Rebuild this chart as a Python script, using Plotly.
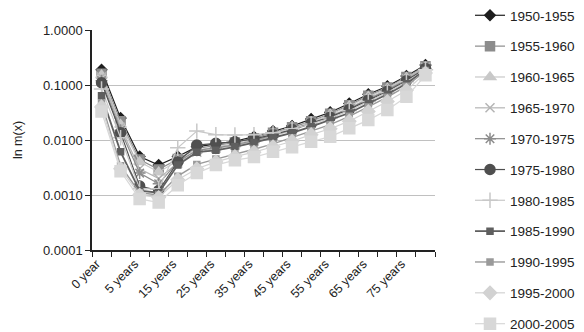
import plotly.graph_objects as go

age_groups = ["0", "1-4", "5-9", "10-14", "15-19", "20-24", "25-29", "30-34", "35-39",
              "40-44", "45-49", "50-54", "55-59", "60-64", "65-69", "70-74", "75-79", "80+"]
tick_labels = ["0 year", "", "5 years", "", "15 years", "", "25 years", "", "35 years", "",
               "45 years", "", "55 years", "", "65 years", "", "75 years", ""]

periods = ["1950-1955", "1955-1960", "1960-1965", "1965-1970", "1970-1975", "1975-1980",
           "1980-1985", "1985-1990", "1990-1995", "1995-2000", "2000-2005"]

m_1950 = [0.19, 0.025, 0.0050, 0.0035, 0.0050, 0.0075, 0.0085, 0.0095, 0.0115, 0.0145, 0.018, 0.024, 0.032, 0.046, 0.068, 0.095, 0.145, 0.23]
m_1955 = [0.16, 0.022, 0.0044, 0.0029, 0.0045, 0.0070, 0.0080, 0.0090, 0.0108, 0.0135, 0.017, 0.022, 0.030, 0.043, 0.064, 0.090, 0.14, 0.22]
m_1960 = [0.15, 0.019, 0.0040, 0.0026, 0.0042, 0.0065, 0.0075, 0.0085, 0.0102, 0.013, 0.016, 0.021, 0.029, 0.041, 0.061, 0.086, 0.135, 0.21]
m_1965 = [0.14, 0.017, 0.0030, 0.0020, 0.0038, 0.0060, 0.0070, 0.0080, 0.0095, 0.012, 0.015, 0.020, 0.027, 0.038, 0.057, 0.082, 0.13, 0.21]
m_1970 = [0.12, 0.015, 0.0025, 0.0016, 0.0040, 0.0065, 0.0072, 0.0082, 0.0098, 0.0122, 0.0155, 0.020, 0.027, 0.037, 0.055, 0.080, 0.125, 0.20]
m_1975 = [0.11, 0.0136, 0.00145, 0.0012, 0.0040, 0.0081, 0.0087, 0.0093, 0.0105, 0.0125, 0.0155, 0.020, 0.026, 0.036, 0.053, 0.077, 0.12, 0.20]
m_1980 = [0.085, 0.011, 0.0013, 0.0013, 0.0072, 0.0145, 0.0125, 0.0123, 0.0125, 0.0135, 0.016, 0.0195, 0.025, 0.034, 0.050, 0.073, 0.115, 0.19]
m_1985 = [0.064, 0.0061, 0.0012, 0.0011, 0.0035, 0.0060, 0.0065, 0.0075, 0.009, 0.011, 0.0135, 0.0175, 0.023, 0.031, 0.046, 0.068, 0.105, 0.19]
m_1990 = [0.047, 0.0034, 0.0011, 0.0010, 0.0022, 0.0036, 0.0045, 0.0055, 0.0068, 0.0085, 0.011, 0.0145, 0.019, 0.027, 0.040, 0.060, 0.095, 0.18]
m_1995 = [0.040, 0.0030, 0.0010, 0.0009, 0.0019, 0.0030, 0.0040, 0.0050, 0.0060, 0.0075, 0.0095, 0.0125, 0.016, 0.022, 0.033, 0.050, 0.080, 0.165]
m_2000 = [0.033, 0.0027, 0.00085, 0.00073, 0.0015, 0.0025, 0.0035, 0.0043, 0.0049, 0.0061, 0.0074, 0.0093, 0.0115, 0.0163, 0.023, 0.035, 0.061, 0.15]

series = [m_1950, m_1955, m_1960, m_1965, m_1970, m_1975, m_1980, m_1985, m_1990, m_1995, m_2000]

styles = [
    dict(color="#1e1e1e", symbol="diamond", size=8, lw=1.2),
    dict(color="#8c8c8c", symbol="square", size=9, lw=1.2),
    dict(color="#c8c8c8", symbol="triangle-up", size=10, lw=1.2),
    dict(color="#b4b4b4", symbol="x-thin-open", size=9, lw=1.2),
    dict(color="#8c8c8c", symbol="asterisk-open", size=10, lw=1.2),
    dict(color="#4f4f4f", symbol="circle", size=10, lw=1.2),
    dict(color="#c8c8c8", symbol="cross-thin-open", size=11, lw=1.2),
    dict(color="#5f5f5f", symbol="square", size=6, lw=1.8),
    dict(color="#9a9a9a", symbol="square", size=6, lw=1.4),
    dict(color="#d2d2d2", symbol="diamond", size=10, lw=1.2),
    dict(color="#d8d8d8", symbol="square", size=11, lw=1.2),
]

x_idx = list(range(len(age_groups)))

fig = go.Figure()
for i, (name, vals, st) in enumerate(zip(periods, series, styles)):
    fig.add_trace(go.Scatter(
        x=x_idx, y=vals, name=name, mode="lines+markers",
        legendgroup=name,
        legend="legend" if i < 6 else "legend2",
        line=dict(color=st["color"], width=st["lw"]),
        marker=dict(symbol=st["symbol"], size=st["size"], color=st["color"],
                    line=dict(color=st["color"], width=1.5)),
        customdata=age_groups,
    ))

W, H = 584, 332
leg_common = dict(xref="container", yref="paper", x=470 / W, xanchor="left",
                  yanchor="top", tracegroupgap=10.3,
                  font=dict(size=13.5, color="#222"), bgcolor="rgba(0,0,0,0)")
fig.update_layout(
    width=W, height=H,
    margin=dict(l=92, r=149, t=0, b=0, autoexpand=False),
    paper_bgcolor="white", plot_bgcolor="white",
    font=dict(family="Liberation Sans, Arial, sans-serif", size=13, color="#222"),
    legend=dict(y=1.0, **leg_common),
    legend2=dict(y=1 - 185 / H, **leg_common),
    showlegend=True,
)

fig.update_xaxes(
    range=[-0.5, len(age_groups) - 0.5],
    tickvals=x_idx, ticktext=tick_labels, tickangle=-45,
    ticks="", showgrid=False, zeroline=False,
    showline=True, linecolor="#222", linewidth=1.5,
    tickfont=dict(size=12.5, color="#222"),
    ticklabelshift=-5,
    minor=dict(tick0=-0.5, dtick=1, ticks="outside", ticklen=5, tickcolor="#222", tickwidth=1.2, showgrid=False),
)

fig.update_yaxes(
    type="log", range=[-4, 0],
    domain=[(H - 250) / H, (H - 30) / H],
    tickvals=[0.0001, 0.001, 0.01, 0.1, 1],
    ticktext=["0.0001", "0.0010", "0.0100", "0.1000", "1.0000"],
    ticks="outside", ticklen=5, tickcolor="#222", tickwidth=1.2,
    showgrid=True, gridcolor="#c0c0c0", gridwidth=1.2,
    showline=True, linecolor="#222", linewidth=1.5, zeroline=False,
    tickfont=dict(size=13, color="#222"),
    title=dict(text="ln m(x)", font=dict(size=12.5, color="#222"), standoff=18),
)

fig.write_html("out.html", config={"displayModeBar": False},
               post_script="document.body.style.margin='0';")
